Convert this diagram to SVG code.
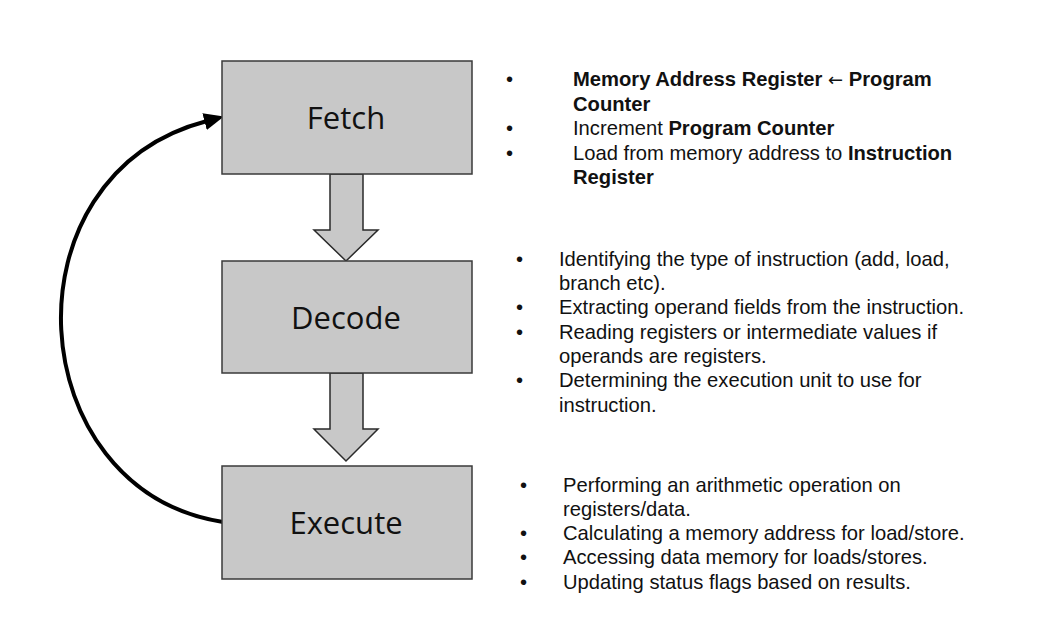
<svg xmlns="http://www.w3.org/2000/svg" width="1050" height="630" viewBox="0 0 1050 630">
<style>
.box{fill:#c8c8c8;stroke:#3a3a3a;stroke-width:1.5}
.blk{fill:#c8c8c8;stroke:#2a2a2a;stroke-width:1.5;stroke-linejoin:miter}
.lbl{font-family:"Open Sans","Noto Sans",sans-serif;font-size:31px;fill:#111;text-anchor:middle}
.t{font-family:"Liberation Sans",Arial,sans-serif;font-size:20.2px;fill:#111}
.b{font-weight:bold}
.ar{font-family:"DejaVu Sans",sans-serif;font-weight:normal;font-size:18px}
</style>
<defs>
<marker id="ah" markerUnits="userSpaceOnUse" markerWidth="20" markerHeight="20" viewBox="0 0 16 14" refX="2" refY="7" orient="auto">
<path d="M0,0 L16,7 L0,14 Z" fill="#000"/>
</marker>
</defs>
<rect width="1050" height="630" fill="#fff"/>
<g id="connectors">
<path id="loop" d="M223 522 C20 490, 0 175, 207 121" fill="none" stroke="#000" stroke-width="4" marker-end="url(#ah)"/>
<path id="fetch-decode" class="blk" d="M330 174 L363 174 L363 230 L378 230 L346 261 L314 230 L330 230 Z"/>
<path id="decode-execute" class="blk" d="M330 373 L363 373 L363 429 L378 429 L346 461 L314 429 L330 429 Z"/>
</g>
<g id="fetch">
<rect class="box" x="222" y="61" width="250" height="113"/>
<text class="lbl" x="346" y="129">Fetch</text>
</g>
<g id="decode">
<rect class="box" x="222" y="261" width="250" height="112"/>
<text class="lbl" x="346" y="329">Decode</text>
</g>
<g id="execute">
<rect class="box" x="222" y="466" width="250" height="113"/>
<text class="lbl" x="346" y="534">Execute</text>
</g>
<g id="fetch-notes" class="t">
<text x="506" y="86">•</text>
<text x="573" y="86" class="b">Memory Address Register <tspan class="ar">←</tspan> Program</text>
<text x="573" y="111" class="b">Counter</text>
<text x="506" y="135">•</text>
<text x="573" y="135">Increment <tspan class="b">Program Counter</tspan></text>
<text x="506" y="160">•</text>
<text x="573" y="160">Load from memory address to <tspan class="b">Instruction</tspan></text>
<text x="573" y="184" class="b">Register</text>
</g>
<g id="decode-notes" class="t">
<text x="516" y="266">•</text>
<text x="559" y="266">Identifying the type of instruction (add, load,</text>
<text x="559" y="290">branch etc).</text>
<text x="516" y="314">•</text>
<text x="559" y="314">Extracting operand fields from the instruction.</text>
<text x="516" y="339">•</text>
<text x="559" y="339">Reading registers or intermediate values if</text>
<text x="559" y="363">operands are registers.</text>
<text x="516" y="387">•</text>
<text x="559" y="387">Determining the execution unit to use for</text>
<text x="559" y="412">instruction.</text>
</g>
<g id="execute-notes" class="t">
<text x="520" y="492">•</text>
<text x="563" y="492">Performing an arithmetic operation on</text>
<text x="563" y="516">registers/data.</text>
<text x="520" y="540">•</text>
<text x="563" y="540">Calculating a memory address for load/store.</text>
<text x="520" y="564">•</text>
<text x="563" y="564">Accessing data memory for loads/stores.</text>
<text x="520" y="589">•</text>
<text x="563" y="589">Updating status flags based on results.</text>
</g>
</svg>
